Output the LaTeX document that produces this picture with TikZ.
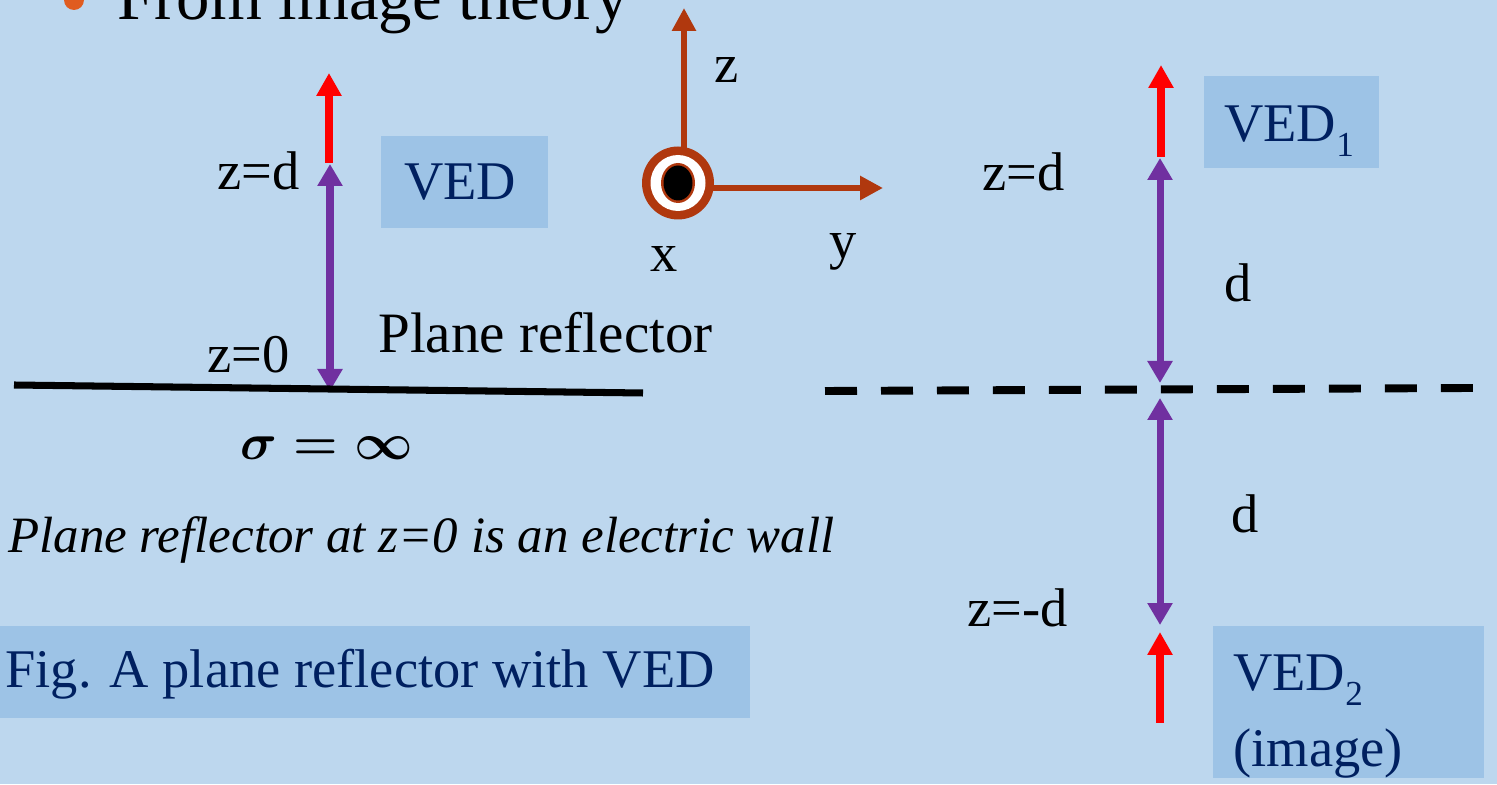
\documentclass[tikz,border=0pt]{standalone}
\usepackage{fix-cm}
\usepackage{fontspec}
\setmainfont{Liberation Serif}
\usetikzlibrary{arrows.meta}
\definecolor{slidebg}{RGB}{189,215,238}
\definecolor{boxbg}{RGB}{157,195,230}
\definecolor{navy}{RGB}{0,32,96}
\definecolor{dipolered}{RGB}{255,0,0}
\definecolor{distpurple}{RGB}{112,48,160}
\definecolor{axisbrown}{RGB}{176,56,14}
\definecolor{bulletorange}{RGB}{224,92,32}
\newcommand{\lowidx}[1]{\raisebox{-8pt}{\fontsize{20}{20}\selectfont #1}}
\begin{document}
\begin{tikzpicture}[x=0.02cm,y=0.02cm,
  lbl/.style={font=\fontsize{31}{35}\selectfont,inner sep=0pt},
  dipolearr/.style={line width=4.5pt,dipolered,-{Triangle[width=0.48cm,length=0.46cm]}},
  distarr/.style={line width=4pt,distpurple,
    {Triangle[width=0.48cm,length=0.44cm]}-{Triangle[width=0.48cm,length=0.44cm]}},
  axisarr/.style={line width=3.4pt,axisbrown,-{Triangle[width=0.46cm,length=0.46cm]}}]
  \clip (0,0) rectangle (1497,784);
  \fill[slidebg] (0,0) rectangle (1497,784);

  % title bullet (cut off at the top)
  \fill[bulletorange] (74,784) circle (0.2cm);
  \node[font=\fontsize{38}{44}\selectfont,inner sep=0pt,anchor=base west] (title) at (117,764) {From image theory};

  % ---- left: VED above the plane reflector
  \coordinate (ved0) at (329,621);
  \coordinate (ved0tip) at (329,711);
  \coordinate (dtop) at (330,620);
  \coordinate (dbot) at (330,393);
  \draw[dipolearr] (ved0) -- (ved0tip);
  \draw[distarr] (dbot) -- (dtop);

  % plane reflector (slightly tilted)
  \coordinate (wallL) at (14,399);
  \coordinate (wallR) at (643,391);
  \draw[line width=4pt] (wallL) -- (wallR);

  \node[lbl,anchor=base east] (zd) at (300,594) {z=d};
  \node[lbl,anchor=base east] (zzero) at (290,411) {z=0};
  \node[lbl,font=\fontsize{32.5}{36}\selectfont,anchor=base west] (plane) at (378,431) {Plane reflector};
  \node[font=\fontsize{29}{33}\selectfont\boldmath,inner sep=0pt,anchor=base] (sigma) at (327,324) {$\sigma=\infty$};

  \fill[boxbg] (381,556) rectangle (548,648);
  \node[lbl,text=navy,anchor=base west] (ved) at (404,584) {VED};

  \node[lbl,font=\fontsize{29}{33}\selectfont,anchor=base west] (wall) at (8,231) {\itshape Plane reflector at z=0 is an electric wall};

  \fill[boxbg] (0,66) rectangle (750,158);
  \node[lbl,text=navy,anchor=base west] (caption) at (5,96) {Fig. A plane reflector with VED};

  % ---- coordinate axes, x out of the page
  \coordinate (orig) at (678,601);
  \draw[axisarr] (684,636) coordinate (zfoot) -- (684,776) coordinate (ztip);
  \draw[axisarr] (712,596) coordinate (yfoot) -- (883,596) coordinate (ytip);
  \fill[axisbrown] (orig) ellipse [x radius=0.72cm,y radius=0.73cm];
  \fill[white] (orig) ellipse [x radius=0.55cm,y radius=0.56cm];
  \fill[axisbrown] (orig) ellipse [x radius=0.34cm,y radius=0.4cm];
  \fill[black] (orig) ellipse [x radius=0.29cm,y radius=0.35cm];
  \node[lbl,anchor=base west] (zlab) at (714,701) {z};
  \node[lbl,anchor=base west] (xlab) at (650,512) {x};
  \node[lbl,anchor=base west] (ylab) at (829,525) {y};

  % ---- right: image theory
  \coordinate (wallimgL) at (825,393);
  \coordinate (wallimgR) at (1473,396);
  \draw[line width=4.5pt,dash pattern=on 0.64cm off 0.48cm] (wallimgL) -- (wallimgR);

  \coordinate (ved1) at (1161,627);
  \coordinate (ved1tip) at (1161,719);
  \draw[dipolearr] (ved1) -- (ved1tip);
  \coordinate (d1top) at (1160,626);
  \coordinate (d1bot) at (1160,401);
  \draw[distarr] (d1bot) -- (d1top);
  \coordinate (d2top) at (1160,386);
  \coordinate (d2bot) at (1160,159);
  \draw[distarr] (d2bot) -- (d2top);
  \coordinate (ved2) at (1160,61);
  \coordinate (ved2tip) at (1160,152);
  \draw[dipolearr] (ved2) -- (ved2tip);

  \node[lbl,anchor=base west] (zdright) at (982,593) {z=d};
  \node[lbl,anchor=base west] (dup) at (1224,482) {d};
  \node[lbl,anchor=base west] (ddown) at (1231,251) {d};
  \node[lbl,anchor=base west] (zmd) at (967,157) {z=-d};

  \fill[boxbg] (1204,616) rectangle (1379,708);
  \node[lbl,text=navy,anchor=base west] (vedone) at (1224,642) {VED\lowidx{1}};

  \fill[boxbg] (1213,6) rectangle (1484,158);
  \node[lbl,text=navy,anchor=base west] (vedtwo) at (1233,93) {VED\lowidx{2}};
  \node[lbl,text=navy,anchor=base west] (imagelab) at (1233,17) {(image)};
\end{tikzpicture}
\end{document}
